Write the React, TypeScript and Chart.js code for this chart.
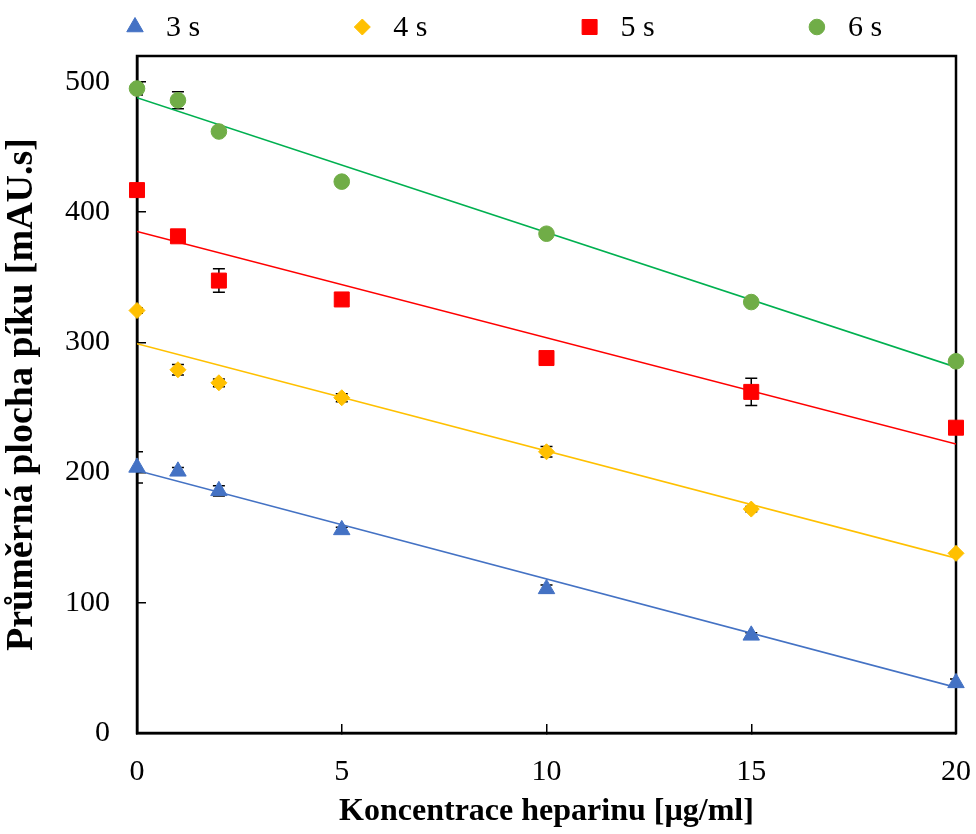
import React, { useEffect, useRef } from 'react';
import { Chart, registerables } from 'chart.js';
import { drawPoint } from 'chart.js/helpers';

Chart.register(...registerables);

// ---- data ----
const concentrations = [0, 1, 2, 5, 10, 15, 20];
const seriesLabels = ['3 s', '4 s', '5 s', '6 s'];

const area3s = [204, 201, 186, 156, 110.7, 75, 38.5];
const err3s = [12, 3, 4, 2, 3, 2, 3];
const area4s = [324.5, 279, 269, 257.5, 216, 172, 138];
const err4s = [2, 4, 3, 3, 4, 2, 1];
const area5s = [417, 381.5, 347.5, 333, 288, 262, 234.5];
const err5s = [2, 2, 9, 2, 2, 10.5, 2];
const area6s = [495, 486, 462, 423.5, 383.5, 331, 285.5];
const err6s = [5, 6.5, 2, 2, 2, 2, 2];

// linear trend lines: value at x = 0 and at x = 20
const trendStart = [201.7, 299, 385.2, 488];
const trendEnd = [35, 134.3, 222, 281];

const xTicks = [0, 5, 10, 15, 20];
const yTicks = [0, 100, 200, 300, 400, 500];

const xTitle = 'Koncentrace heparinu [µg/ml]';
const yTitle = 'Průměrná plocha píku [mAU.s]';

// ---- styles ----
const markerColors = ['#4472C4', '#FFC000', '#FF0000', '#70AD47'];
const lineColors = ['#4472C4', '#FFC000', '#FF0000', '#00B050'];
const pointStyles = ['triangle', 'rectRot', 'rect', 'circle'];
const pointRadii = [9.5, 8, 10.6, 7.8];
const FONT = "'Liberation Serif', 'Times New Roman', serif";

const allValues = [area3s, area4s, area5s, area6s];
const allErrors = [err3s, err4s, err5s, err6s];

const errorBarPlugin = {
  id: 'errorBars',
  beforeDatasetsDraw(chart: any) {
    const { ctx, chartArea, scales } = chart;
    ctx.save();
    ctx.strokeStyle = '#000';
    ctx.lineWidth = 2.5;
    ctx.strokeRect(chartArea.left, chartArea.top, chartArea.right - chartArea.left, chartArea.bottom - chartArea.top);
    ctx.restore();

    ctx.save();
    ctx.beginPath();
    ctx.rect(chartArea.left, chartArea.top, chartArea.right - chartArea.left, chartArea.bottom - chartArea.top);
    ctx.clip();
    ctx.strokeStyle = '#000';
    ctx.lineWidth = 1.5;
    allValues.forEach((vals, s) => {
      const errs = allErrors[s];
      vals.forEach((v, i) => {
        const x = scales.x.getPixelForValue(concentrations[i]);
        const yTop = scales.y.getPixelForValue(v + errs[i]);
        const yBot = scales.y.getPixelForValue(v - errs[i]);
        ctx.beginPath();
        ctx.moveTo(x, yTop);
        ctx.lineTo(x, yBot);
        ctx.moveTo(x - 6, yTop);
        ctx.lineTo(x + 6, yTop);
        ctx.moveTo(x - 6, yBot);
        ctx.lineTo(x + 6, yBot);
        ctx.stroke();
      });
    });
    ctx.restore();
  },
};

const legendPlugin = {
  id: 'topLegend',
  afterDraw(chart: any) {
    const { ctx } = chart;
    ctx.save();
    seriesLabels.forEach((label, i) => {
      const cx = 135 + i * 227.3;
      const cy = 27;
      ctx.fillStyle = markerColors[i];
      ctx.strokeStyle = markerColors[i];
      drawPoint(ctx, { pointStyle: pointStyles[i], radius: pointRadii[i], rotation: 0, borderWidth: 1 } as any, cx, cy);
      ctx.fillStyle = '#000';
      ctx.font = `30px ${FONT}`;
      ctx.textAlign = 'left';
      ctx.textBaseline = 'middle';
      ctx.fillText(label, cx + 31, cy + 1);
    });
    ctx.restore();
  },
};

export default function App() {
  const canvasRef = useRef<HTMLCanvasElement | null>(null);

  useEffect(() => {
    if (!canvasRef.current) return;

    const scatterSets = allValues.map((vals, s) => ({
      type: 'scatter' as const,
      label: seriesLabels[s],
      data: vals.map((v, i) => ({ x: concentrations[i], y: v })),
      showLine: false,
      pointStyle: pointStyles[s],
      pointRadius: pointRadii[s],
      pointBackgroundColor: markerColors[s],
      pointBorderColor: markerColors[s],
      pointBorderWidth: 1,
      clip: false as any,
      order: 0,
    }));

    const trendSets = trendStart.map((v, s) => ({
      type: 'line' as const,
      label: seriesLabels[s] + ' trend',
      data: [
        { x: concentrations[0], y: v },
        { x: concentrations[concentrations.length - 1], y: trendEnd[s] },
      ],
      borderColor: lineColors[s],
      borderWidth: 1.6,
      pointRadius: 0,
      fill: false,
      order: 1,
    }));

    const axisCommon = {
      grid: { drawOnChartArea: false, drawTicks: true, tickLength: -9, color: '#000', lineWidth: 1.5 },
      border: { display: true, color: '#000', width: 2.5 },
    };

    const chart = new Chart(canvasRef.current, {
      type: 'scatter',
      data: { datasets: [...trendSets, ...scatterSets] as any },
      options: {
        animation: false,
        responsive: false,
        layout: { padding: { top: 56, right: 20, left: 0, bottom: 0 } },
        plugins: { legend: { display: false }, tooltip: { enabled: false } },
        scales: {
          x: {
            type: 'linear',
            position: 'bottom',
            min: 0,
            max: 20,
            afterBuildTicks: (s: any) => { s.ticks = xTicks.map((v) => ({ value: v })); },
            afterFit: (s: any) => { s.height = 101; s.paddingLeft = 0; s.paddingRight = 0; },
            ...axisCommon,
            ticks: { padding: 30, color: '#000', font: { family: FONT, size: 30 } },
            title: {
              display: true,
              text: xTitle,
              color: '#000',
              font: { family: FONT, size: 32, weight: 'bold' },
              padding: { top: 0, bottom: 3 },
            },
          },
          y: {
            type: 'linear',
            min: 0,
            max: 520,
            afterBuildTicks: (s: any) => { s.ticks = yTicks.map((v) => ({ value: v })); },
            afterFit: (s: any) => { s.width = 137; s.paddingTop = 0; s.paddingBottom = 0; },
            ...axisCommon,
            ticks: { padding: 36, color: '#000', font: { family: FONT, size: 30 } },
            title: {
              display: true,
              text: yTitle,
              color: '#000',
              font: { family: FONT, size: 38, weight: 'bold', lineHeight: 1.15 },
              padding: { top: 0, bottom: 0 },
            },
          },
        },
      } as any,
      plugins: [errorBarPlugin, legendPlugin],
    });

    return () => chart.destroy();
  }, []);

  return (
    <div style={{ position: 'absolute', left: 0, top: 0, width: 976, height: 834 }}>
      <canvas ref={canvasRef} width={976} height={834} style={{ display: 'block', width: 976, height: 834 }} />
    </div>
  );
}
